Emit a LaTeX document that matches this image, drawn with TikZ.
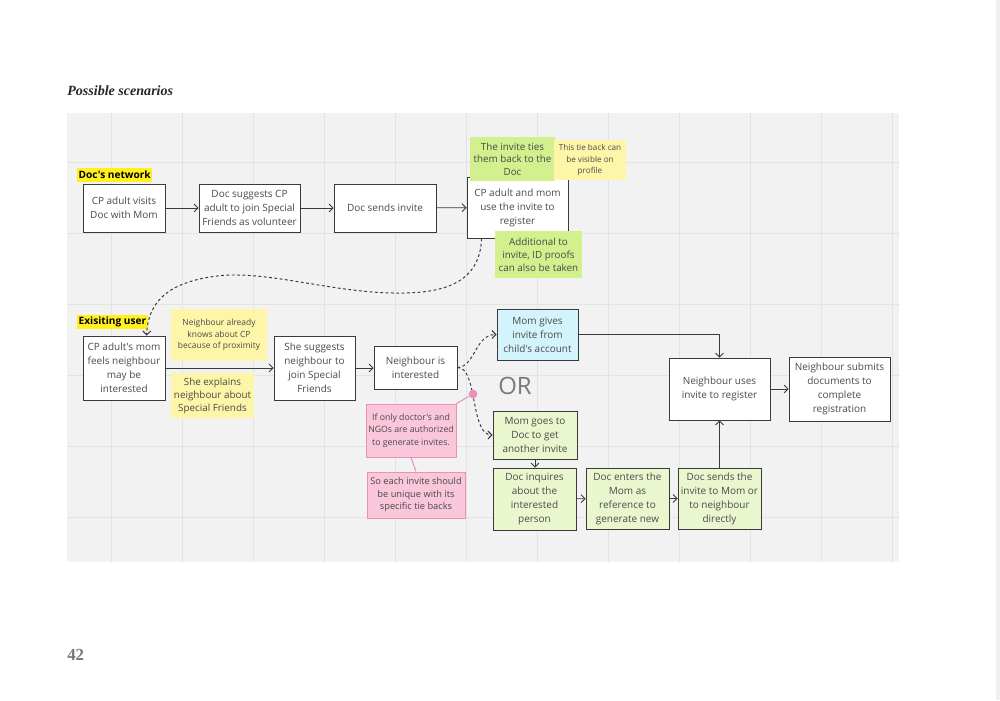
\documentclass[tikz,border=0pt]{standalone}
\usepackage{fontspec}
\setmainfont{Liberation Serif}
\newfontfamily\miro{Open Sans}
\usepackage{xcolor}
\usepackage{tikz}
\usetikzlibrary{
  arrows.meta,
  calc
}
\definecolor{canvasgray}{HTML}{F2F2F2}
\definecolor{gridgray}{HTML}{E3E3E3}
\definecolor{boxline}{HTML}{3A3A3A}
\definecolor{textgray}{HTML}{4A4A4A}
\definecolor{hiyellow}{HTML}{FFF01E}
\definecolor{notegreen}{HTML}{D2F08E}
\definecolor{noteyellow}{HTML}{FDF6A8}
\definecolor{notepink}{HTML}{F9C6DA}
\definecolor{pinkline}{HTML}{E892BA}
\definecolor{bluefill}{HTML}{D3F4FC}
\definecolor{greenfill}{HTML}{EAF7CE}
\definecolor{orgray}{HTML}{7A7A7A}
\definecolor{pagegray}{HTML}{777777}

\begin{document}
\begin{tikzpicture}[
  x=0.025cm, y=-0.025cm,
  every node/.style={font=\miro\fontsize{7.1}{10}\selectfont, text=textgray,
                     align=center, inner sep=0pt},
  stepbox/.style={draw=boxline, line width=0.6pt, fill=white},
  greenbox/.style={stepbox, fill=greenfill},
  bluebox/.style={stepbox, fill=bluefill},
  greennote/.style={fill=notegreen},
  yellownote/.style={fill=noteyellow, font=\miro\fontsize{6}{8.2}\selectfont},
  pinknote/.style={fill=notepink, draw=pinkline, line width=0.6pt,
                   font=\miro\fontsize{6.2}{8.9}\selectfont},
  hilite/.style={fill=hiyellow, text=black, anchor=west, inner xsep=1pt,
                 minimum height=0.35cm, font=\miro\bfseries\fontsize{7.2}{9}\selectfont},
  flow/.style={->, draw=boxline, line width=0.6pt},
  maybe/.style={->, draw=boxline, line width=0.7pt, dash pattern=on 2pt off 1.8pt},
  >={Straight Barb[length=2.8pt,width=5.7pt]}
]
  \useasboundingbox (0,0) rectangle (1000,700);
  \fill[gray!12] (996,0) rectangle (1000,700);

  % Board with grid
  \fill[canvasgray] (67,113) rectangle (899,562);
  \foreach \gx in {111,182,...,892}
    \draw[gridgray, line width=0.5pt] (\gx,113) -- (\gx,562);
  \foreach \gy in {162,233,...,517}
    \draw[gridgray, line width=0.5pt] (67,\gy) -- (899,\gy);

  \node[anchor=base west, text=black!85,
        font=\bfseries\itshape\fontsize{10}{12}\selectfont] (title) at (67,95) {Possible scenarios};
  \node[anchor=base west, text=pagegray,
        font=\bfseries\fontsize{12}{14}\selectfont] (pagenum) at (67,660) {42};

  % First scenario: Doc's network
  \node[hilite] (docnet) at (77,175) {Doc's network};
  \node[stepbox, minimum width=2.05cm, minimum height=1.2cm] (cpvisits) at (124,208)
    {CP adult visits\\Doc with Mom};
  \node[stepbox, minimum width=2.525cm, minimum height=1.2cm] (docsuggests) at (249.5,208)
    {Doc suggests CP\\adult to join Special\\Friends as volunteer};
  \node[stepbox, minimum width=2.55cm, minimum height=1.2cm] (docsends) at (385,208)
    {Doc sends invite};
  \node[stepbox, minimum width=2.525cm, minimum height=1.525cm] (useinvite) at (517.5,207.5)
    {CP adult and mom\\use the invite to\\register};
  \node[greennote, minimum width=2.125cm, minimum height=1.1cm,
        font=\miro\fontsize{7}{8.9}\selectfont] (tiesnote) at (512.5,159)
    {The invite ties\\them back to the\\Doc};
  \node[yellownote, minimum width=1.8cm, minimum height=1.0cm,
        font=\miro\fontsize{5.8}{8.3}\selectfont] (profilenote) at (590,160)
    {This tie back can\\be visible on\\profile};
  \node[greennote, minimum width=2.175cm, minimum height=1.175cm,
        font=\miro\fontsize{7}{9.2}\selectfont] (proofsnote) at (538.5,254.5)
    {Additional to\\invite, ID proofs\\can also be taken};

  \draw[flow] (cpvisits) -- (docsuggests);
  \draw[flow] (docsuggests) -- (docsends);
  \draw[flow] (docsends) -- (useinvite);

  % Second scenario: existing user
  \node[hilite] (existing) at (77,322) {Exisiting user};
  \node[stepbox, minimum width=2.05cm, minimum height=1.6cm] (momfeels) at (124,368)
    {CP adult's mom\\feels neighbour\\may be\\interested};
  \node[yellownote, minimum width=2.4cm, minimum height=1.3cm] (proximity) at (219,335)
    {Neighbour already\\knows about CP\\because of proximity};
  \node[yellownote, minimum width=2.075cm, minimum height=1.125cm,
        font=\miro\fontsize{7}{9.2}\selectfont] (explains) at (212.5,395.5)
    {She explains\\neighbour about\\Special Friends};
  \node[stepbox, minimum width=2.025cm, minimum height=1.6cm] (shesuggests) at (314.5,368)
    {She suggests\\neighbour to\\join Special\\Friends};
  \node[stepbox, minimum width=2.075cm, minimum height=1.075cm] (interested) at (415.5,367.5)
    {Neighbour is\\interested};

  \draw[maybe] ($(useinvite.south west)+(15,0)$)
    .. controls (480,285) and (440,294) .. (393,293)
    .. controls (330,292) and (265,270) .. (217,276)
    .. controls (170,282) and (148,300) .. ($(momfeels.north west)+(64,0)$);
  \draw[flow] (momfeels) -- (shesuggests);
  \draw[flow] (shesuggests.east) -- (shesuggests.east -| interested.west);

  % Option one: invite from the child's account
  \node[bluebox, minimum width=2.025cm, minimum height=1.275cm] (momgives) at (537.5,334.5)
    {Mom gives\\invite from\\child's account};
  \node[font=\miro\fontsize{17}{20}\selectfont, text=orgray] (ortext) at (515,386) {OR};

  % Option two: a new invite from the Doc
  \node[greenbox, minimum width=2.1cm, minimum height=1.2cm] (momgoes) at (535,435)
    {Mom goes to\\Doc to get\\another invite};
  \node[greenbox, minimum width=2.075cm, minimum height=1.55cm] (docinquires) at (534.5,499)
    {Doc inquires\\about the\\interested\\person};
  \node[greenbox, minimum width=2.075cm, minimum height=1.525cm] (docenters) at (627.5,498.5)
    {Doc enters the\\Mom as\\reference to\\generate new};
  \node[greenbox, minimum width=2.075cm, minimum height=1.525cm] (docsendsto) at (719.5,498.5)
    {Doc sends the\\invite to Mom or\\to neighbour\\directly};

  \draw[maybe] (interested.east) .. controls (475,367) and (475,334.5) .. (momgives.west);
  \draw[maybe] (interested.east) .. controls (478,367) and (470,435) .. (momgoes.west);
  \draw[flow] (momgoes.south) -- (momgoes.south |- docinquires.north);
  \draw[flow] (docinquires) -- (docenters);
  \draw[flow] (docenters) -- (docsendsto);

  % Pink remarks
  \node[pinknote, minimum width=2.25cm, minimum height=1.325cm] (authnote) at (411,430.5)
    {If only doctor's and\\NGOs are authorized\\to generate invites.};
  \node[pinknote, minimum width=2.45cm, minimum height=1.15cm,
        font=\miro\fontsize{6.6}{8.9}\selectfont] (uniquenote) at (416,495)
    {So each invite should\\be unique with its\\specific tie backs};
  \node[circle, fill=pinkline, minimum size=0.22cm] (pindot) at (473,394) {};
  \draw[pinkline, line width=0.7pt] (pindot) -- (authnote.north east);
  \draw[pinkline, line width=0.7pt] (authnote.south) -- (uniquenote.north);

  % Registration
  \node[stepbox, minimum width=2.525cm, minimum height=1.55cm] (neighbouruses) at (719.5,389)
    {Neighbour uses\\invite to register};
  \node[stepbox, minimum width=2.525cm, minimum height=1.6cm] (submits) at (839.5,389)
    {Neighbour submits\\documents to\\complete\\registration};

  \draw[flow] (momgives.east) -| (neighbouruses.north);
  \draw[flow] (docsendsto.north) -- (docsendsto.north |- neighbouruses.south);
  \draw[flow] (neighbouruses) -- (submits);

\end{tikzpicture}
\end{document}
